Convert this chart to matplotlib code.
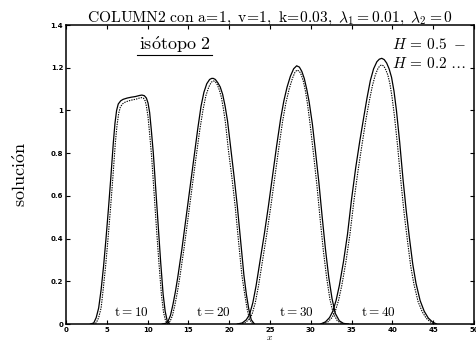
import numpy as np
import matplotlib
matplotlib.use("Agg")
import matplotlib.pyplot as plt

plt.rcParams['mathtext.fontset'] = 'cm'

# H = 0.5 (solid) and H = 0.2 (dotted) profiles at t = 10, 20, 30, 40
x_t10_h05 = [3.0, 3.4, 3.7, 4.0, 4.3, 4.6, 4.9, 5.2, 5.5, 5.8, 6.0, 6.2, 6.4, 6.7, 7.0, 7.5, 8.0, 8.5, 9.0, 9.3, 9.6, 9.85, 10.05, 10.25, 10.45, 10.7, 11.0, 11.3, 11.6, 11.9, 12.15, 12.4, 12.7]
y_t10_h05 = [0, 0.005, 0.03, 0.075, 0.16, 0.27, 0.40, 0.54, 0.69, 0.85, 0.94, 1.0, 1.03, 1.045, 1.052, 1.058, 1.062, 1.065, 1.07, 1.072, 1.069, 1.058, 1.035, 0.99, 0.91, 0.80, 0.63, 0.46, 0.29, 0.14, 0.06, 0.015, 0]
x_t10_h02 = [3.3, 3.7, 4.0, 4.3, 4.55, 4.85, 5.15, 5.45, 5.75, 6.05, 6.25, 6.45, 6.65, 6.9, 7.2, 7.6, 8.1, 8.6, 9.0, 9.25, 9.5, 9.7, 9.85, 10.05, 10.25, 10.5, 10.8, 11.1, 11.4, 11.7, 11.95, 12.2, 12.5]
y_t10_h02 = [0, 0.005, 0.03, 0.075, 0.16, 0.27, 0.40, 0.54, 0.69, 0.85, 0.93, 0.985, 1.015, 1.03, 1.038, 1.044, 1.049, 1.053, 1.058, 1.06, 1.057, 1.045, 1.02, 0.97, 0.89, 0.78, 0.61, 0.44, 0.28, 0.135, 0.055, 0.015, 0]

x_t20_h05 = [11.8, 12.2, 12.5, 12.8, 13.1, 13.4, 13.7, 14.2, 14.65, 15.15, 15.65, 16.15, 16.55, 16.9, 17.25, 17.6, 17.85, 18.05, 18.3, 18.6, 18.9, 19.2, 19.5, 19.8, 20.2, 20.6, 21.0, 21.4, 21.8, 22.1, 22.4, 22.7, 23.1]
y_t20_h05 = [0, 0.003, 0.012, 0.04, 0.09, 0.15, 0.22, 0.35, 0.48, 0.625, 0.77, 0.915, 1.02, 1.085, 1.125, 1.145, 1.15, 1.15, 1.145, 1.13, 1.11, 1.075, 1.02, 0.95, 0.82, 0.69, 0.55, 0.39, 0.23, 0.14, 0.07, 0.02, 0]
x_t20_h02 = [12.1, 12.45, 12.75, 13.05, 13.35, 13.65, 13.95, 14.45, 14.9, 15.4, 15.9, 16.4, 16.8, 17.15, 17.5, 17.8, 18.05, 18.3, 18.55, 18.8, 19.05, 19.3, 19.55, 19.9, 20.35, 20.75, 21.15, 21.55, 21.9, 22.2, 22.5, 22.9]
y_t20_h02 = [0, 0.003, 0.012, 0.04, 0.09, 0.15, 0.22, 0.35, 0.48, 0.625, 0.77, 0.91, 1.005, 1.07, 1.11, 1.132, 1.138, 1.135, 1.12, 1.095, 1.06, 1.005, 0.94, 0.815, 0.68, 0.545, 0.385, 0.23, 0.14, 0.07, 0.02, 0]

x_t30_h05 = [21.0, 21.6, 22.1, 22.5, 22.9, 23.3, 23.8, 24.3, 24.8, 25.3, 25.8, 26.3, 26.7, 27.1, 27.5, 27.9, 28.27, 28.6, 28.9, 29.2, 29.5, 29.8, 30.2, 30.6, 31.0, 31.4, 31.8, 32.2, 32.6, 33.0, 33.5, 34.0, 34.6]
y_t30_h05 = [0, 0.005, 0.02, 0.045, 0.1, 0.18, 0.3, 0.42, 0.55, 0.69, 0.83, 0.96, 1.045, 1.11, 1.16, 1.195, 1.209, 1.203, 1.183, 1.15, 1.1, 1.04, 0.935, 0.8, 0.66, 0.5, 0.35, 0.22, 0.12, 0.05, 0.015, 0.003, 0]
x_t30_h02 = [21.3, 21.9, 22.4, 22.8, 23.2, 23.6, 24.1, 24.6, 25.1, 25.6, 26.1, 26.55, 26.95, 27.35, 27.75, 28.05, 28.3, 28.6, 28.85, 29.1, 29.35, 29.6, 29.95, 30.35, 30.75, 31.15, 31.55, 31.95, 32.35, 32.75, 33.25, 33.75, 34.3]
y_t30_h02 = [0, 0.005, 0.02, 0.045, 0.1, 0.18, 0.3, 0.42, 0.55, 0.69, 0.83, 0.95, 1.035, 1.1, 1.15, 1.178, 1.189, 1.184, 1.165, 1.135, 1.09, 1.03, 0.925, 0.79, 0.65, 0.49, 0.34, 0.215, 0.115, 0.05, 0.015, 0.003, 0]

x_t40_h05 = [31.2, 31.8, 32.3, 32.7, 33.1, 33.5, 34.0, 34.5, 35.0, 35.5, 36.0, 36.5, 36.9, 37.3, 37.7, 38.1, 38.4, 38.7, 39.0, 39.3, 39.6, 39.9, 40.2, 40.5, 40.9, 41.3, 41.7, 42.1, 42.5, 42.9, 43.4, 43.9, 44.4, 44.9, 45.4]
y_t40_h05 = [0, 0.01, 0.03, 0.06, 0.11, 0.18, 0.29, 0.42, 0.585, 0.73, 0.855, 0.97, 1.06, 1.14, 1.195, 1.228, 1.24, 1.244, 1.238, 1.222, 1.195, 1.155, 1.09, 1.0, 0.85, 0.68, 0.53, 0.4, 0.28, 0.19, 0.11, 0.06, 0.028, 0.01, 0]
x_t40_h02 = [31.5, 32.1, 32.6, 33.0, 33.4, 33.8, 34.3, 34.8, 35.3, 35.8, 36.3, 36.75, 37.15, 37.55, 37.9, 38.25, 38.5, 38.7, 38.95, 39.2, 39.45, 39.7, 39.95, 40.25, 40.65, 41.05, 41.45, 41.85, 42.25, 42.65, 43.15, 43.65, 44.15, 44.65, 45.1]
y_t40_h02 = [0, 0.01, 0.03, 0.06, 0.11, 0.18, 0.29, 0.42, 0.58, 0.72, 0.845, 0.955, 1.04, 1.115, 1.165, 1.198, 1.21, 1.213, 1.208, 1.19, 1.165, 1.125, 1.065, 0.975, 0.83, 0.665, 0.515, 0.39, 0.27, 0.185, 0.105, 0.058, 0.027, 0.01, 0]

time_labels = ["t=10", "t=20", "t=30", "t=40"]
time_label_x = [8.05, 18.0, 28.2, 38.3]

xticks = [0, 5, 10, 15, 20, 25, 30, 35, 40, 45, 50]
yticks = [0, 0.2, 0.4, 0.6, 0.8, 1.0, 1.2, 1.4]
ytick_labels = ["0", "0.2", "0.4", "0.6", "0.8", "1", "1.2", "1.4"]

fig = plt.figure(figsize=(4.76, 3.44), dpi=100)
ax = fig.add_axes([0.1387, 0.0581, 0.857, 0.8692])

solid = [(x_t10_h05, y_t10_h05), (x_t20_h05, y_t20_h05), (x_t30_h05, y_t30_h05), (x_t40_h05, y_t40_h05)]
dotted = [(x_t10_h02, y_t10_h02), (x_t20_h02, y_t20_h02), (x_t30_h02, y_t30_h02), (x_t40_h02, y_t40_h02)]
for xs, ys in solid:
    ax.plot(xs, ys, color='black', lw=0.9, solid_joinstyle='round')
for xs, ys in dotted:
    ax.plot(xs, ys, color='black', lw=0.8, linestyle=(0, (1.2, 1.0)))

ax.set_xlim(0, 50)
ax.set_ylim(0, 1.4)
ax.set_xticks(xticks)
ax.set_xticklabels([str(v) for v in xticks])
ax.set_yticks(yticks)
ax.set_yticklabels(ytick_labels)
ax.tick_params(direction='in', top=True, right=True, length=3, width=0.8,
               labelsize=5, pad=2)
for lab in ax.get_xticklabels() + ax.get_yticklabels():
    lab.set_fontweight('bold')
for sp in ax.spines.values():
    sp.set_linewidth(1.1)

ax.set_title(r"$\mathrm{COLUMN2\ con\ a\!=\!1,\ v\!=\!1,\ k\!=\!0.03,}\ \lambda_1=0.01,\ \lambda_2=0$",
             fontsize=11.2, pad=2)
ax.set_ylabel(r"$\mathrm{soluci\acute{o}n}$", fontsize=13, labelpad=15)
ax.text(25, -0.06, r"$x$", fontsize=7, ha='center', va='center')

for lab, xv in zip(time_labels, time_label_x):
    ax.text(xv, 0.056, r"$\mathrm{" + lab + "}$", fontsize=9.5, ha='center', va='center')

ax.text(13.35, 1.283, r"$\mathrm{is\acute{o}topo\ 2}$", fontsize=13, ha='center', va='baseline')
ax.plot([0.174, 0.358], [0.90, 0.90], transform=ax.transAxes, color='black', lw=0.8)

ax.text(0.799, 0.92, r"$H\,=\,0.5\ -$", transform=ax.transAxes, fontsize=11, ha='left', va='baseline')
ax.text(0.799, 0.856, r"$H\,=\,0.2\ \ldots$", transform=ax.transAxes, fontsize=11, ha='left', va='baseline')

fig.savefig("out.png", dpi=100)
